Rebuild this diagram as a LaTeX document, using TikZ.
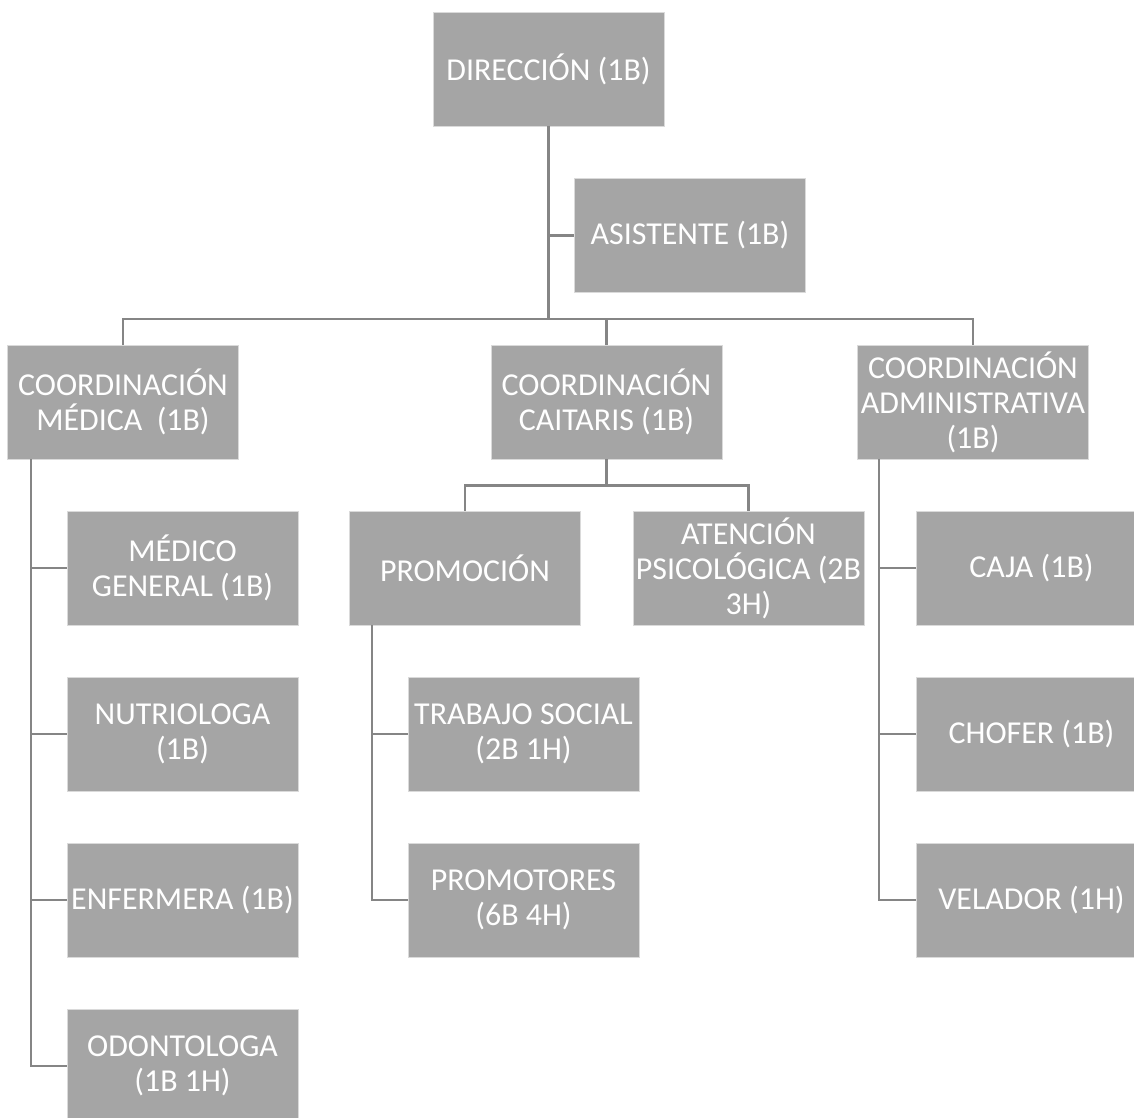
\documentclass[tikz,border=0pt]{standalone}
\usepackage{fontspec}
\setmainfont{Carlito}
\usepackage{tikz}
\usetikzlibrary{positioning,calc}

\definecolor{cajagris}{HTML}{A5A5A5}
\definecolor{bordegris}{HTML}{DADADA}
\definecolor{lineagris}{HTML}{858585}

\tikzset{
	puesto/.style={fill=cajagris, draw=bordegris, line width=0.5pt,
		minimum width=5.775cm, minimum height=2.85cm, inner xsep=0pt,
		align=center, text=white, font=\fontsize{22.7}{24.9}\selectfont},
	linea/.style={draw=lineagris, line width=0.065cm}
}

\begin{document}
\begin{tikzpicture}[x=0.025cm,y=-0.025cm]
		\useasboundingbox (0,0) rectangle (1134,1118);
		\clip (0,0) rectangle (1134,1118);

		% Cajas
		\node[puesto] (dir) at (548.5,69) {DIRECCIÓN (1B)};
		\node[puesto] (asis) at (690,235.5) {ASISTENTE (1B)};

		\node[puesto] (cmed) at (123,402) {COORDINACIÓN\\MÉDICA\ \ (1B)};
		\node[puesto] (ccai) at (606.5,402) {COORDINACIÓN\\CAITARIS (1B)};
		\node[puesto] (cadm) at (973,402) {COORDINACIÓN\\ADMINISTRATIVA\\(1B)};

		\node[puesto] (medg) at (182.5,568) {MÉDICO\\GENERAL (1B)};
		\node[puesto] (nutri) at (182.5,734) {NUTRIOLOGA\\(1B)};
		\node[puesto] (enf) at (182.5,900) {ENFERMERA (1B)};
		\node[puesto] (odon) at (182.5,1066) {ODONTOLOGA\\(1B 1H)};

		\node[puesto] (prom) at (465,568) {PROMOCIÓN};
		\node[puesto] (aten) at (748.5,568) {ATENCIÓN\\PSICOLÓGICA (2B\\3H)};
		\node[puesto] (trab) at (523.5,734) {TRABAJO SOCIAL\\(2B 1H)};
		\node[puesto] (promo) at (523.5,900) {PROMOTORES\\(6B 4H)};

		\node[puesto] (caja) at (1031.5,568) {CAJA (1B)};
		\node[puesto] (chof) at (1031.5,734) {CHOFER (1B)};
		\node[puesto] (vel) at (1031.5,900) {VELADOR (1H)};

		% Puntos de las lineas
		\coordinate (bus) at (548.5,319);
		\coordinate (lmed) at (31,459);
		\coordinate (lprom) at (372,625);
		\coordinate (ladm) at (879,459);

		% Lineas
		\draw[linea] (dir.south) -- (bus);
		\draw[linea] (dir.south |- asis.west) -- (asis.west);
		\draw[linea] (cmed.north) |- (bus) -| (cadm.north);
		\draw[linea] (ccai.north) -- (ccai.north |- bus);

		\draw[linea] (lmed) |- (odon.west);
		\foreach \n in {medg,nutri,enf}
			\draw[linea] (lmed |- \n.west) -- (\n.west);

		\draw[linea] (ccai.south) -- ++(0,26) coordinate (cmid);
		\draw[linea] (prom.north) |- (cmid) -| (aten.north);
		\draw[linea] (lprom) |- (promo.west);
		\draw[linea] (lprom |- trab.west) -- (trab.west);

		\draw[linea] (ladm) |- (vel.west);
		\foreach \n in {caja,chof}
			\draw[linea] (ladm |- \n.west) -- (\n.west);
	\end{tikzpicture}
\end{document}
